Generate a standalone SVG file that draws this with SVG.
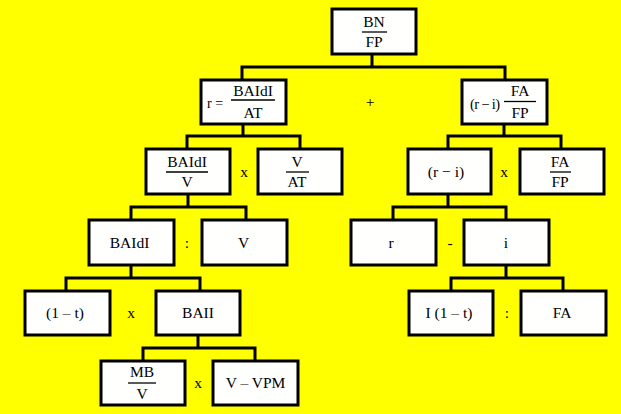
<svg xmlns="http://www.w3.org/2000/svg" width="621" height="414" viewBox="0 0 621 414" font-family="'Liberation Serif', 'DejaVu Serif', serif">
<style>
.bg{fill:#ffff00}
.box{fill:#fffffe;stroke:#000;stroke-width:3}
.conn{fill:none;stroke:#000;stroke-width:3}
.fl{stroke:#000;stroke-width:1.3}
text{font-family:'Liberation Serif','DejaVu Serif',serif;font-size:15.5px;fill:#000;text-anchor:middle}
.st{text-anchor:start}
</style>
<rect class="bg" x="0" y="0" width="621" height="414"/>
<g id="connectors">
<path class="conn" d="M372 54V67M242 80V67H505V80"/>
<path class="conn" d="M243 124V136M187 149V136H300V149"/>
<path class="conn" d="M504 124V136M448 149V136H561V149"/>
<path class="conn" d="M188 194V207M131 220V207H246V220"/>
<path class="conn" d="M448 194V207M393 220V207H506V220"/>
<path class="conn" d="M131 265V278M66 291V278H200V291"/>
<path class="conn" d="M506 265V278M451 291V278H563V291"/>
<path class="conn" d="M198 335V348M143 361V348H255V361"/>
</g>
<g id="n_bn_fp">
<rect class="box" x="332" y="9" width="84" height="45"/>
<text x="374" y="27">BN</text>
<line class="fl" x1="362" y1="32" x2="387" y2="32"/>
<text x="374" y="47">FP</text>
</g>
<g id="n_r">
<rect class="box" x="201" y="80" width="85" height="44"/>
<text class="st" x="207" y="108" textLength="16" lengthAdjust="spacingAndGlyphs">r =</text>
<text x="253" y="95.5">BAIdI</text>
<line class="fl" x1="231" y1="100" x2="275" y2="100"/>
<text x="253" y="118">AT</text>
</g>
<text id="op_plus" x="370" y="107">+</text>
<g id="n_ri_fa_fp">
<rect class="box" x="462" y="80" width="85" height="44"/>
<text class="st" x="470" y="109" style="font-size:14.5px" textLength="30" lengthAdjust="spacing">(r − i)</text>
<text x="520" y="95.5">FA</text>
<line class="fl" x1="504" y1="101.5" x2="536" y2="101.5"/>
<text x="520" y="118">FP</text>
</g>
<g id="n_baidi_v">
<rect class="box" x="146" y="149" width="84" height="45"/>
<text x="187" y="167">BAIdI</text>
<line class="fl" x1="166" y1="172" x2="208" y2="172"/>
<text x="187" y="187">V</text>
</g>
<text id="op_x1" x="244" y="177">x</text>
<g id="n_v_at">
<rect class="box" x="258" y="149" width="84" height="45"/>
<text x="297" y="167">V</text>
<line class="fl" x1="286" y1="172" x2="309" y2="172"/>
<text x="297" y="187">AT</text>
</g>
<g id="n_ri">
<rect class="box" x="408" y="149" width="83" height="45"/>
<text x="446" y="177">(r − i)</text>
</g>
<text id="op_x2" x="504" y="177">x</text>
<g id="n_fa_fp">
<rect class="box" x="520" y="149" width="84" height="45"/>
<text x="560" y="167">FA</text>
<line class="fl" x1="550" y1="172" x2="571" y2="172"/>
<text x="560" y="187">FP</text>
</g>
<g id="n_baidi">
<rect class="box" x="89" y="220" width="85" height="45"/>
<text x="129.5" y="248">BAIdI</text>
</g>
<text id="op_div1" x="187" y="248">:</text>
<g id="n_v">
<rect class="box" x="202" y="220" width="85" height="45"/>
<text x="243.5" y="248">V</text>
</g>
<g id="n_r2">
<rect class="box" x="351" y="220" width="85" height="45"/>
<text x="391" y="248">r</text>
</g>
<text id="op_minus" x="450" y="248">-</text>
<g id="n_i">
<rect class="box" x="464" y="220" width="85" height="45"/>
<text x="506" y="248">i</text>
</g>
<g id="n_1t">
<rect class="box" x="25" y="291" width="85" height="44"/>
<text x="65" y="318">(1 – t)</text>
</g>
<text id="op_x3" x="131" y="318">x</text>
<g id="n_baii">
<rect class="box" x="156" y="291" width="84" height="44"/>
<text x="198" y="318">BAII</text>
</g>
<g id="n_i1t">
<rect class="box" x="409" y="291" width="84" height="44"/>
<text x="449" y="318">I (1 – t)</text>
</g>
<text id="op_div2" x="507" y="318">:</text>
<g id="n_fa">
<rect class="box" x="521" y="291" width="85" height="44"/>
<text x="562" y="318">FA</text>
</g>
<g id="n_mb_v">
<rect class="box" x="101" y="361" width="84" height="44"/>
<text x="142" y="377">MB</text>
<line class="fl" x1="128" y1="383" x2="156" y2="383"/>
<text x="142" y="398.5">V</text>
</g>
<text id="op_x4" x="198" y="388">x</text>
<g id="n_v_vpm">
<rect class="box" x="213" y="361" width="85" height="44"/>
<text x="255.5" y="388">V – VPM</text>
</g>
</svg>
